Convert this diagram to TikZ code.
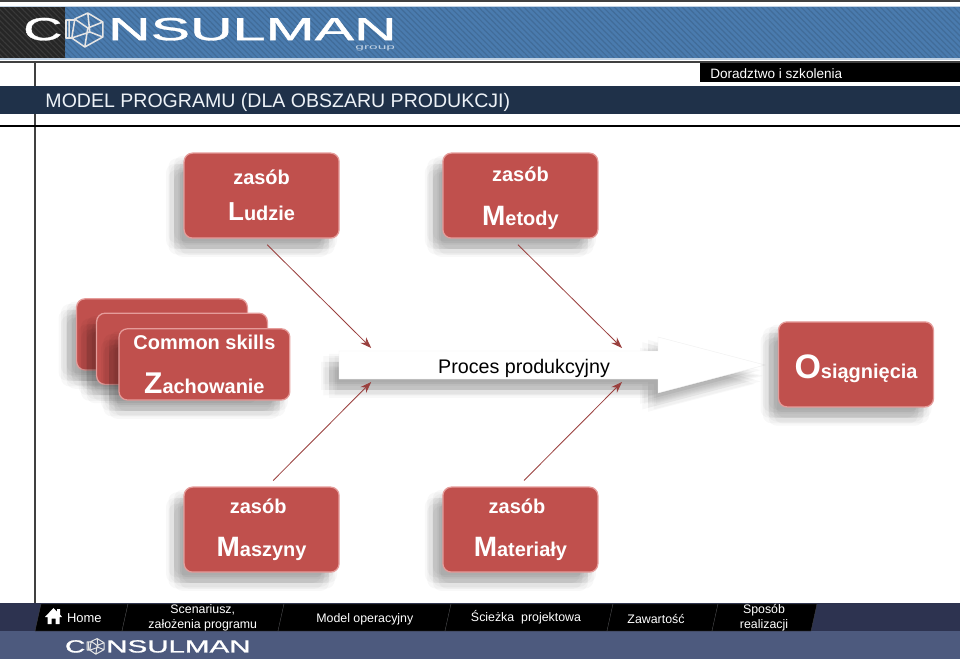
\documentclass[tikz,border=0pt]{standalone}
\usepackage{fontspec}
\usepackage{xcolor}
\setmainfont{Liberation Sans}
\newfontfamily\logofont[FakeBold=1]{Liberation Sans}
\usetikzlibrary{arrows.meta,positioning,patterns.meta}

\definecolor{brickred}{HTML}{C0504D}
\definecolor{brickrim}{HTML}{E59C9A}
\definecolor{navybar}{HTML}{1F3149}
\definecolor{steelblue}{HTML}{4A7BAE}
\definecolor{footdark}{HTML}{2D3350}
\definecolor{footblue}{HTML}{4D5A7E}

\newcommand{\capsize}[2]{{\fontsize{\dimexpr#1pt*711/1000\relax}{10pt}\selectfont #2}}

\begin{document}
\begin{tikzpicture}[
    font=\fontsize{14pt}{17pt}\selectfont,
    >=Stealth,
    shadowat/.style={preaction={fill=black,fill opacity=0.028,draw=none,transform canvas={shift={(#1)}}}},
    softshadow/.style={shadowat/.list={{-0.05,-0.27},{-0.45,-0.27},{-0.25,-0.07},{-0.25,-0.47},{-0.11,-0.13},{-0.39,-0.13},{-0.11,-0.41},{-0.39,-0.41},{-0.15,-0.27},{-0.35,-0.27},{-0.25,-0.17},{-0.25,-0.37},{-0.25,-0.27}}},
    res/.style={softshadow,draw=brickrim,line width=0.9pt,rounded corners=6pt,fill=brickred,text=white,
      font=\fontsize{14.2pt}{17pt}\selectfont\bfseries,align=center,minimum width=3.875cm,minimum height=2.125cm,inner sep=0pt},
    stackbox/.style={res,minimum width=4.27cm,minimum height=1.78cm},
    flow/.style={->,line width=0.6pt,draw=brickred!80!black,>={Stealth[length=0.28cm,width=0.2cm]}},
    tab/.style={fill=black,draw=gray!60!black,line width=0.2pt},
    tabtext/.style={text=white,align=center,font=\fontsize{8.8pt}{10.6pt}\selectfont,inner sep=0pt},
    logotext/.style={text=white,inner sep=0pt,font=\logofont\fontsize{#1}{24pt}\selectfont},
    cube/.pic={
      \draw[white!80!gray,line width=#1,line join=round]
        (-0.24,0.275) -- (0.085,0.425) -- (0.46,0.2) -- (0.085,0.05) -- cycle
        (0.46,0.2) -- (0.46,-0.175) -- (0.01,-0.425) -- (0.085,0.05)
        (0.01,-0.425) -- (-0.315,-0.2) -- (-0.24,0.275)
        (-0.315,-0.2) -- (0.135,-0.05) -- (0.46,-0.175) (0.085,0.425) -- (0.135,-0.05)
        (-0.24,0.25) -- (-0.46,0.25) -- (-0.46,-0.2) -- (-0.315,-0.2)
        (-0.38,0.25) -- (-0.38,-0.2);
    }
  ]
    \useasboundingbox (0,0) rectangle (24,16.5);
    \fill[white] (0,0) rectangle (24,16.5);

    % top banner
    \fill[gray!50!black] (0,16.46) rectangle (24,16.5);
    \fill[steelblue!35!white] (0,15) rectangle (24,16.35);
    \fill[steelblue] (0,15.05) rectangle (24,16.32);
    \fill[pattern={Lines[angle=-45,distance=0.1cm,line width=0.03cm]},pattern color=steelblue!88!black] (0,15.05) rectangle (24,16.32);
    \fill[black!85] (0,15.05) rectangle (1.63,16.32);
    \fill[pattern={Lines[angle=-45,distance=0.1cm,line width=0.03cm]},pattern color=gray!45!black] (0,15.05) rectangle (1.63,16.32);
    \fill[gray!50!black] (0,14.92) rectangle (24,14.97);

    % logo
    \node[logotext=22.7pt,xscale=1.7] (logoc) at (1.07,15.77) {C};
    \node[logotext=22.7pt,xscale=1.85] (logoname) at (6.31,15.77) {NSULMAN};
    \node[text=white!65!steelblue,xscale=2.2,inner sep=0pt,font=\fontsize{5pt}{6pt}\selectfont] (logogroup) at (9.38,15.29) {group};
    \pic at (2.11,15.75) {cube=1.1pt};

    % title bars
    \draw[black!75,line width=1.3pt] (0.87,14.95) -- (0.87,0.92);
    \fill[black] (17.5,14.45) rectangle (24,14.92);
    \node[text=white,anchor=west,inner sep=0pt,font=\fontsize{9.65pt}{12pt}\selectfont] (firm) at (17.75,14.66) {Doradztwo i szkolenia};
    \fill[navybar] (0,13.65) rectangle (24,14.35);
    \node[text=white!90!steelblue,anchor=west,inner sep=0pt,font=\fontsize{13.9pt}{15pt}\selectfont] (title) at (1.13,13.95) {MODEL PROGRAMU (DLA OBSZARU PRODUKCJI)};
    \draw[black,line width=1.3pt] (0,13.35) -- (24,13.35);

    % process arrow
    \path[softshadow,fill=white,draw=gray!12,line width=0.3pt] (8.475,7.725) -- (16.45,7.725) -- (16.45,8.075) -- (19.125,7.375)
      -- (16.45,6.675) -- (16.45,7.025) -- (8.475,7.025) -- cycle;
    \node[inner sep=0pt] (proces) at (13.1,7.3) {Proces produkcyjny};

    % stack, back to front
    \node[stackbox] (back) at (4.05,8.14) {};
    \node[stackbox] (middle) at (4.55,7.78) {};
    \node[stackbox] (zachowanie) at (5.11,7.39) {Common skills\\[0.5cm]\capsize{30}{Z}achowanie};
    \node[res] (ludzie) at (6.54,11.61) {zasób\\[0.3cm]\capsize{26}{L}udzie};
    \node[res] (metody) at (13.01,11.61) {\rule{0pt}{0.5cm}zasób\\[0.5cm]\capsize{28}{M}etody};
    \node[res] (maszyny) at (6.54,3.26) {zasób\hspace*{0.17cm}\\[0.47cm]\capsize{28}{M}aszyny};
    \node[res] (materialy) at (13.01,3.26) {zasób\hspace*{0.17cm}\\[0.47cm]\capsize{28}{M}ateriały};
    \node[res] (osiagniecia) at (21.4,7.39) {\rule{0pt}{0.81cm}\capsize{34}{O}siągnięcia};

    \coordinate (ludzieend) at (9.28,7.8);
    \coordinate (metodyend) at (15.55,7.8);
    \coordinate (maszynyend) at (9.28,6.95);
    \coordinate (materialyend) at (15.55,6.95);
    \draw[flow] ([xshift=0.14cm,yshift=-0.15cm]ludzie.south) -- (ludzieend);
    \draw[flow] ([xshift=-0.06cm,yshift=-0.15cm]metody.south) -- (metodyend);
    \draw[flow] ([xshift=0.29cm,yshift=0.15cm]maszyny.north) -- (maszynyend);
    \draw[flow] ([xshift=0.09cm,yshift=0.15cm]materialy.north) -- (materialyend);

    % footer
    \fill[footdark] (0,1.425) rectangle (24,0.725);
    \fill[footblue] (0,0.725) rectangle (24,0.03);
    \foreach \xa/\xb in {0.875/3.05,3.05/6.95,6.95/11.125,11.125/15.175,15.175/17.8,17.8/20.275}
      \draw[tab] (\xa,0.725) -- (\xa+0.15,1.4) -- (\xb+0.15,1.4) -- (\xb,0.725) -- cycle;
    \fill[white] (1.125,1.075) -- (1.3375,1.3) -- (1.425,1.2125) -- (1.425,1.275) -- (1.5,1.275) -- (1.5,1.1375) -- (1.55,1.075)
      -- (1.4875,1.075) -- (1.4875,0.9) -- (1.3875,0.9) -- (1.3875,1.0375) -- (1.2875,1.0375) -- (1.2875,0.9) -- (1.1875,0.9) -- (1.1875,1.075) -- cycle;
    \node[tabtext] (home) at (2.11,1.05) {\fontsize{9.2pt}{10.6pt}\selectfont Home};
    \node[tabtext] (scenariusz) at (5.07,1.05) {Scenariusz,\\założenia programu};
    \node[tabtext] (model) at (9.12,1.03) {Model operacyjny};
    \node[tabtext] (sciezka) at (13.15,1.06) {Ścieżka\ \ projektowa};
    \node[tabtext] (zawartosc) at (16.4,1.03) {Zawartość};
    \node[tabtext] (sposob) at (19.1,1.05) {Sposób\\realizacji};
    \node[logotext=12.5pt,xscale=1.6] (footc) at (1.88,0.34) {C};
    \node[logotext=12.5pt,xscale=1.68] (footname) at (4.46,0.34) {NSULMAN};
    \pic[scale=0.46] at (2.39,0.34) {cube=0.7pt};
  \end{tikzpicture}
\end{document}
